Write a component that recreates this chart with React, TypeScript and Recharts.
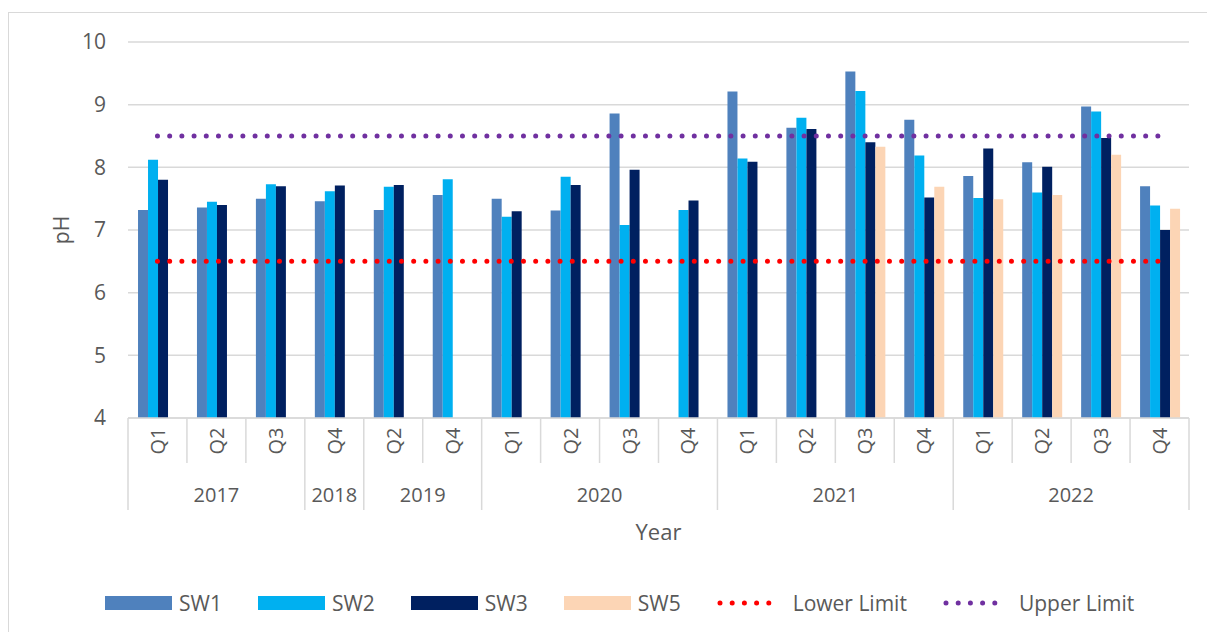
import React from 'react';
import {
  ComposedChart,
  Bar,
  Line,
  XAxis,
  YAxis,
  CartesianGrid,
  Label,
} from 'recharts';

// pH per sampling quarter
const quarters = ['Q1', 'Q2', 'Q3', 'Q4', 'Q2', 'Q4', 'Q1', 'Q2', 'Q3', 'Q4', 'Q1', 'Q2', 'Q3', 'Q4', 'Q1', 'Q2', 'Q3', 'Q4'];
const years = ['2017', '2017', '2017', '2018', '2019', '2019', '2020', '2020', '2020', '2020', '2021', '2021', '2021', '2021', '2022', '2022', '2022', '2022'];
const sw1 = [7.32, 7.36, 7.5, 7.46, 7.32, 7.56, 7.5, 7.31, 8.86, null, 9.21, 8.63, 9.53, 8.76, 7.86, 8.08, 8.97, 7.7];
const sw2 = [8.12, 7.45, 7.73, 7.62, 7.69, 7.81, 7.21, 7.85, 7.08, 7.32, 8.14, 8.79, 9.22, 8.19, 7.51, 7.6, 8.89, 7.39];
const sw3 = [7.8, 7.4, 7.7, 7.71, 7.72, null, 7.3, 7.72, 7.96, 7.47, 8.09, 8.61, 8.4, 7.52, 8.3, 8.01, 8.47, 7.0];
const sw5 = [null, null, null, null, null, null, null, null, null, null, null, null, 8.33, 7.69, 7.49, 7.56, 8.2, 7.34];
const lowerLimit = 6.5;
const upperLimit = 8.5;
const yTicks = [4, 5, 6, 7, 8, 9, 10];

const data = quarters.map((q, i) => ({
  key: `${years[i]}-${q}-${i}`,
  q,
  year: years[i],
  sw1: sw1[i],
  sw2: sw2[i],
  sw3: sw3[i],
  sw5: sw5[i],
  lower: lowerLimit,
  upper: upperLimit,
}));

const FONT = '"Open Sans", "Liberation Sans", sans-serif';
const TEXT = '#595959';
const GRID = '#d9d9d9';

const W = 1207;
const H = 632;
const PLOT_LEFT = 128;
const PLOT_RIGHT = 1189;
const BAND = (PLOT_RIGHT - PLOT_LEFT) / data.length;

// two-row category axis: quarter on top, year group underneath
function QuarterTick(props: any) {
  const { x, y, index } = props;
  const left = x - BAND / 2;
  const row = data[index];
  const groupStart = index === 0 || years[index - 1] !== row.year;
  const isLast = index === data.length - 1;
  let groupLabel = null;
  if (groupStart) {
    let n = 0;
    while (index + n < data.length && years[index + n] === row.year) n++;
    const cx = left + (n * BAND) / 2;
    groupLabel = (
      <text x={cx} y={y + 76} textAnchor="middle" dominantBaseline="central" fill={TEXT} fontSize={20} fontFamily={FONT}>
        {row.year}
      </text>
    );
  }
  return (
    <g>
      <line x1={left} x2={left} y1={y} y2={groupStart ? y + 92 : y + 45} stroke={GRID} strokeWidth={1.5} />
      {isLast && <line x1={x + BAND / 2} x2={x + BAND / 2} y1={y} y2={y + 92} stroke={GRID} strokeWidth={1.5} />}
      <text
        x={x}
        y={y + 23}
        transform={`rotate(-90 ${x} ${y + 23})`}
        textAnchor="middle"
        dominantBaseline="central"
        fill={TEXT}
        fontSize={20}
        fontFamily={FONT}
      >
        {row.q}
      </text>
      {groupLabel}
    </g>
  );
}

const legendItems = [
  { name: 'SW1', color: '#4f81bd', kind: 'bar' },
  { name: 'SW2', color: '#00b0f0', kind: 'bar' },
  { name: 'SW3', color: '#002060', kind: 'bar' },
  { name: 'SW5', color: '#fcd5b5', kind: 'bar' },
  { name: 'Lower Limit', color: '#ff0000', kind: 'dot' },
  { name: 'Upper Limit', color: '#7030a0', kind: 'dot' },
];

function ChartLegend() {
  return (
    <div
      style={{
        position: 'absolute',
        left: 105,
        top: 589,
        display: 'flex',
        alignItems: 'center',
        gap: 36,
        fontFamily: FONT,
        fontSize: 21,
        color: TEXT,
        whiteSpace: 'nowrap',
      }}
    >
      {legendItems.map((it) => (
        <div key={it.name} style={{ display: 'flex', alignItems: 'center' }}>
          {it.kind === 'bar' ? (
            <div style={{ width: 67, height: 14, background: it.color, marginRight: 7 }} />
          ) : (
            <svg width={64} height={14} style={{ marginRight: 12 }}>
              <line x1={3} x2={63} y1={7} y2={7} stroke={it.color} strokeWidth={5} strokeDasharray="0 12.2" strokeLinecap="round" />
            </svg>
          )}
          <span>{it.name}</span>
        </div>
      ))}
    </div>
  );
}

export default function App() {
  return (
    <div style={{ position: 'absolute', left: 0, top: 0, width: W, height: H, overflow: 'hidden', background: '#fff' }}>
      <div
        style={{
          position: 'absolute',
          left: 8,
          top: 12,
          width: 1300,
          height: 800,
          borderLeft: `1px solid ${GRID}`,
          borderTop: `1px solid ${GRID}`,
        }}
      />
      <div style={{ position: 'absolute', left: 0, top: 0 }}>
        <ComposedChart
          width={W}
          height={H}
          data={data}
          margin={{ top: 42, right: W - PLOT_RIGHT, bottom: 114, left: 0 }}
          barCategoryGap="17%"
          barGap={0}
        >
          <CartesianGrid vertical={false} stroke={GRID} strokeWidth={1.5} />
          <XAxis
            dataKey="key"
            height={100}
            interval={0}
            tickLine={false}
            tickSize={0}
            tickMargin={0}
            axisLine={{ stroke: GRID, strokeWidth: 1.5 }}
            tick={QuarterTick}
          >
            <Label
              content={({ viewBox }: any) => (
                <text
                  x={viewBox.x + viewBox.width / 2}
                  y={531}
                  textAnchor="middle"
                  dominantBaseline="central"
                  fill={TEXT}
                  fontSize={22}
                  fontFamily={FONT}
                >
                  Year
                </text>
              )}
            />
          </XAxis>
          <YAxis
            width={PLOT_LEFT}
            domain={[4, 10]}
            ticks={yTicks}
            allowDataOverflow
            axisLine={false}
            tickLine={false}
            tickSize={0}
            tickMargin={22}
            tick={{ fill: TEXT, fontSize: 21, fontFamily: FONT }}
          >
            <Label
              content={({ viewBox }: any) => {
                const cy = viewBox.y + viewBox.height / 2;
                return (
                  <text
                    x={61}
                    y={cy}
                    transform={`rotate(-90 61 ${cy})`}
                    textAnchor="middle"
                    dominantBaseline="central"
                    fill={TEXT}
                    fontSize={21}
                    fontFamily={FONT}
                  >
                    pH
                  </text>
                );
              }}
            />
          </YAxis>
          <Bar dataKey="sw1" name="SW1" fill="#4f81bd" isAnimationActive={false} />
          <Bar dataKey="sw2" name="SW2" fill="#00b0f0" isAnimationActive={false} />
          <Bar dataKey="sw3" name="SW3" fill="#002060" isAnimationActive={false} />
          <Bar dataKey="sw5" name="SW5" fill="#fcd5b5" isAnimationActive={false} />
          <Line
            dataKey="lower"
            name="Lower Limit"
            stroke="#ff0000"
            strokeWidth={5}
            strokeDasharray="0 12.2"
            strokeLinecap="round"
            dot={false}
            activeDot={false}
            isAnimationActive={false}
          />
          <Line
            dataKey="upper"
            name="Upper Limit"
            stroke="#7030a0"
            strokeWidth={5}
            strokeDasharray="0 12.2"
            strokeLinecap="round"
            dot={false}
            activeDot={false}
            isAnimationActive={false}
          />
        </ComposedChart>
      </div>
      <ChartLegend />
    </div>
  );
}
